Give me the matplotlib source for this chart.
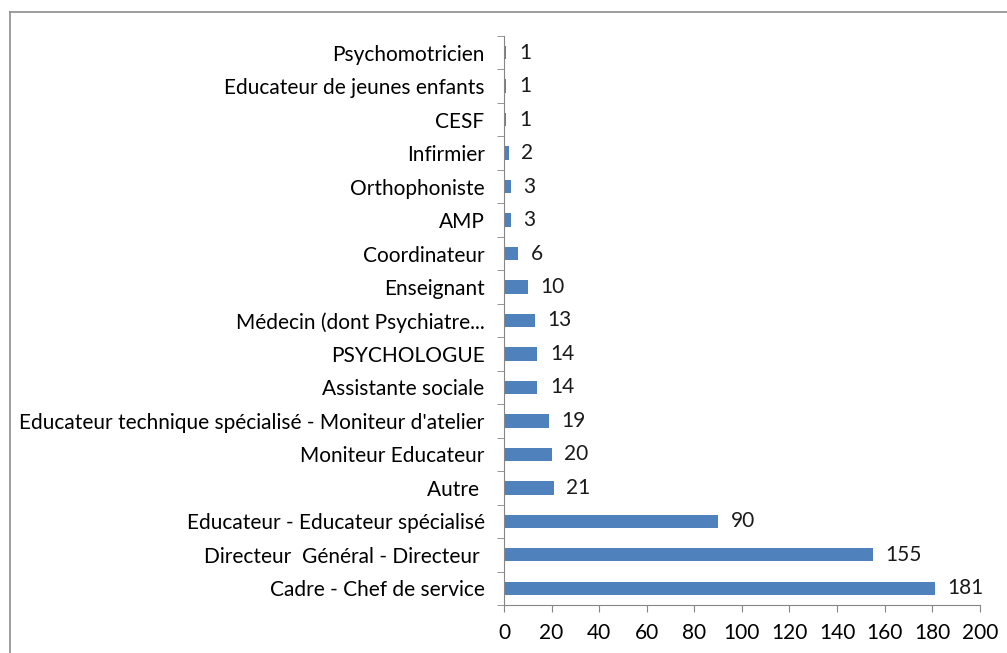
import matplotlib
matplotlib.use("Agg")
import matplotlib.pyplot as plt
import numpy as np
from matplotlib.lines import Line2D

categories = [
    "Cadre - Chef de service",
    "Directeur  Général - Directeur ",
    "Educateur - Educateur spécialisé",
    "Autre ",
    "Moniteur Educateur",
    "Educateur technique spécialisé - Moniteur d'atelier",
    "Assistante sociale",
    "PSYCHOLOGUE",
    "Médecin (dont Psychiatre...",
    "Enseignant",
    "Coordinateur",
    "AMP",
    "Orthophoniste",
    "Infirmier",
    "CESF",
    "Educateur de jeunes enfants",
    "Psychomotricien",
]
values = [181, 155, 90, 21, 20, 19, 14, 14, 13, 10, 6, 3, 3, 2, 1, 1, 1]
x_ticks = [0, 20, 40, 60, 80, 100, 120, 140, 160, 180, 200]

plt.rcParams['font.family'] = ['Lato', 'DejaVu Sans']
FS = 15
fig = plt.figure(figsize=(10.07, 6.53), dpi=100)
ax = fig.add_axes([0.5005, 0.0735, 0.4725, 0.8714])

y = np.arange(len(categories))
ax.barh(y, values, height=0.4, color="#4F81BD")
for yi, v in zip(y, values):
    ax.annotate(str(v), (v, yi), xytext=(9, 0), textcoords="offset points",
                va="center", ha="left", fontsize=FS, color="#1a1a1a")

ax.set_xlim(0, 200)
ax.set_ylim(-0.5, len(categories) - 0.5)
ax.set_xticks(x_ticks)
ax.set_xticklabels([str(t) for t in x_ticks], fontsize=FS)
ax.set_yticks(y)
ax.set_yticklabels(categories, fontsize=FS)
ax.tick_params(axis="y", length=0, pad=14)
ax.set_yticks(np.arange(-0.5, len(categories), 1.0), minor=True)
ax.tick_params(axis="y", which="minor", length=5, color="#868686", direction="out")
ax.tick_params(axis="x", length=5, color="#868686", direction="out", pad=8)
for s in ["top", "right"]:
    ax.spines[s].set_visible(False)
for s in ["left", "bottom"]:
    ax.spines[s].set_color("#868686")

fig.add_artist(Line2D([10/1007, 10/1007], [0, 1 - 12/653], transform=fig.transFigure, color="#8c8c8c", lw=1.2))
fig.add_artist(Line2D([10/1007, 1], [1 - 12/653, 1 - 12/653], transform=fig.transFigure, color="#8c8c8c", lw=1.2))

fig.savefig("out.png", dpi=100)
